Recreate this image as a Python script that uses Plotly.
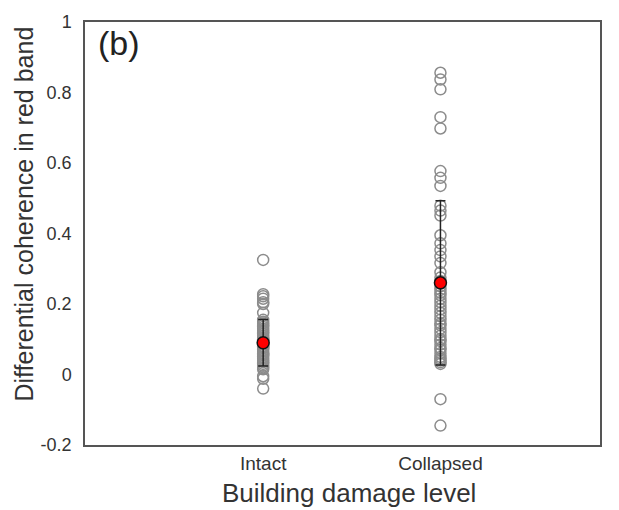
import plotly.graph_objects as go

categories = ["Intact", "Collapsed"]
cat_pos = [1, 2]

intact_vals = [0.325, 0.228, 0.222, 0.215, 0.205, 0.2, 0.175, 0.155, 0.15, 0.145, 0.14,
               0.135, 0.13, 0.125, 0.12, 0.115, 0.11, 0.105, 0.1, 0.098, 0.095, 0.09,
               0.085, 0.08, 0.078, 0.075, 0.07, 0.065, 0.06, 0.058, 0.055, 0.05, 0.045,
               0.04, 0.035, 0.03, 0.025, 0.02, 0.015, -0.005, -0.012, -0.04]
collapsed_vals = [0.856, 0.837, 0.809, 0.730, 0.698, 0.577, 0.558, 0.535, 0.479, 0.465,
                  0.451, 0.395, 0.372, 0.353, 0.335, 0.316, 0.29, 0.275, 0.265, 0.25,
                  0.24, 0.232, 0.225, 0.215, 0.205, 0.195, 0.185, 0.175, 0.165, 0.155,
                  0.145, 0.14, 0.13, 0.12, 0.11, 0.1, 0.095, 0.085, 0.075, 0.07, 0.06,
                  0.05, 0.045, 0.04, 0.035, 0.03, -0.07, -0.145]
means = [0.09, 0.26]
sds = [0.066, 0.233]

ytickvals = [-0.2, 0, 0.2, 0.4, 0.6, 0.8, 1]
yticktext = ["-0.2", "0", "0.2", "0.4", "0.6", "0.8", "1"]

fig = go.Figure()
for pos, vals in zip(cat_pos, [intact_vals, collapsed_vals]):
    fig.add_trace(go.Scatter(
        x=[pos] * len(vals), y=vals, mode="markers",
        marker=dict(size=11, color="rgba(0,0,0,0)",
                    line=dict(color="#8c8c8c", width=1.5)),
        showlegend=False, hoverinfo="y"))

fig.add_trace(go.Scatter(
    x=cat_pos, y=means, mode="markers",
    marker=dict(size=12, color="#ff0000", line=dict(color="#111111", width=1.5)),
    error_y=dict(type="data", array=sds, visible=True, color="#222222",
                 thickness=1.5, width=5),
    showlegend=False))

font_fam = "Liberation Sans, Arial, sans-serif"
fig.update_layout(
    width=619, height=510,
    margin=dict(l=85, r=19, t=14, b=65),
    paper_bgcolor="white", plot_bgcolor="white",
    font=dict(family=font_fam, color="#333333"),
    xaxis=dict(range=[-0.005, 2.9], tickvals=cat_pos, ticktext=categories,
               showgrid=False, zeroline=False, showline=True, mirror=True,
               linecolor="#555555", linewidth=1.5,
               ticks="",
               tickfont=dict(size=19, color="#333333")),
    yaxis=dict(range=[-0.2, 1], tickvals=ytickvals, ticktext=yticktext,
               showgrid=False, zeroline=False, showline=True, mirror=True,
               linecolor="#555555", linewidth=1.5,
               ticks="outside", ticklen=8, tickcolor="rgba(0,0,0,0)",
               tickfont=dict(size=18, color="#333333")),
    annotations=[
        dict(text="(b)", xref="paper", yref="paper", x=0.022, y=1.0,
             xanchor="left", yanchor="top", showarrow=False,
             font=dict(size=34, color="#222222")),
        dict(text="Building damage level", xref="paper", yref="paper",
             x=0.5126, y=-0.114, xanchor="center", yanchor="middle", showarrow=False,
             font=dict(size=26, color="#333333")),
        dict(text="Differential coherence in red band", xref="paper", yref="paper",
             x=-0.1184, y=0.545, xanchor="center", yanchor="middle", showarrow=False,
             textangle=-90, font=dict(size=25, color="#333333")),
    ],
)
fig.write_html("out.html")
